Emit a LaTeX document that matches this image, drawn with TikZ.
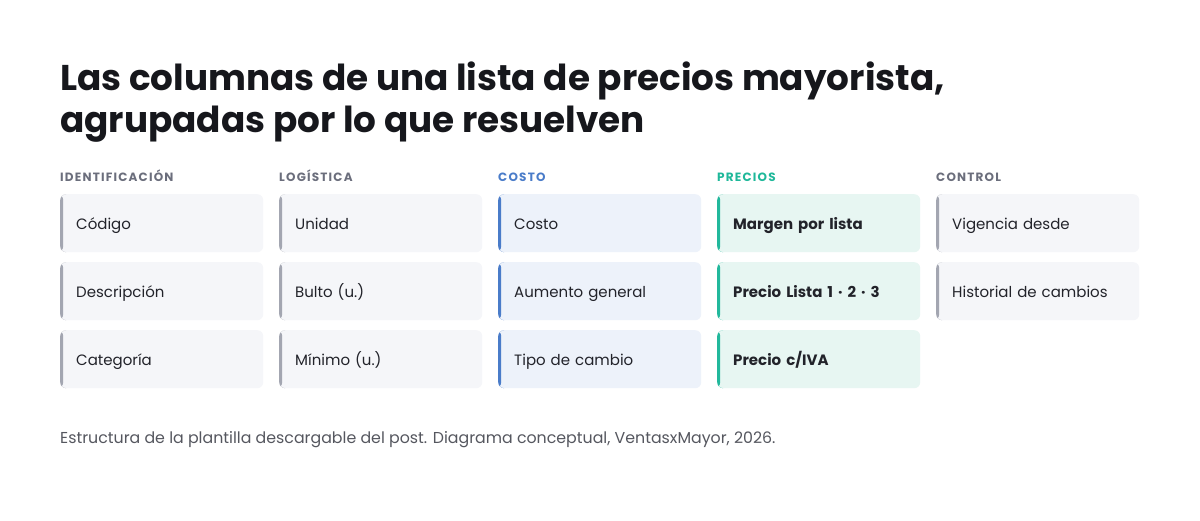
\documentclass[tikz,border=0pt]{standalone}
\usepackage{fontspec}
\setmainfont{Poppins}
\newfontfamily\hdrfont[LetterSpace=10]{Poppins}
\definecolor{titlecol}{HTML}{16171C}
\definecolor{txt}{HTML}{22232A}
\definecolor{hdrgray}{HTML}{6B6E7C}
\definecolor{hdrblue}{HTML}{4A7CC9}
\definecolor{hdrteal}{HTML}{1FB89A}
\definecolor{fillgray}{HTML}{F5F6F9}
\definecolor{fillblue}{HTML}{EDF2FA}
\definecolor{fillteal}{HTML}{E7F6F2}
\definecolor{bargray}{HTML}{A3A6B1}
\definecolor{barblue}{HTML}{4A7CC9}
\definecolor{barteal}{HTML}{22B89C}
\definecolor{capcol}{HTML}{55575F}
\tikzset{
  cell/.style={rectangle, rounded corners=6pt, minimum height=58pt, text width=171pt,
    inner xsep=16pt, inner ysep=0pt, align=left, anchor=north west,
    text height=15pt, text depth=3pt,
    font=\fontsize{15}{18}\selectfont, text=txt},
  gcell/.style={cell, fill=fillgray, path picture={\fill[bargray] (path picture bounding box.south west) rectangle ([xshift=3pt]path picture bounding box.north west);}},
  bcell/.style={cell, fill=fillblue, path picture={\fill[barblue] (path picture bounding box.south west) rectangle ([xshift=3pt]path picture bounding box.north west);}},
  tcell/.style={cell, fill=fillteal, font=\fontsize{15}{18}\selectfont\bfseries, path picture={\fill[barteal] (path picture bounding box.south west) rectangle ([xshift=3pt]path picture bounding box.north west);}},
  hdr/.style={anchor=base west, inner sep=0pt, font=\hdrfont\fontsize{12}{14}\selectfont\bfseries},
}
\begin{document}
\begin{tikzpicture}[x=1pt,y=-1pt]
\useasboundingbox[fill=white] (0,0) rectangle (1200,520);
\node[anchor=base west, inner sep=0pt, align=left, text=titlecol, font=\fontsize{35.8}{42}\selectfont\bfseries] (title) at (60,132)
  {Las columnas de una lista de precios mayorista,\\agrupadas por lo que resuelven};
% headers
\node[hdr, text=hdrgray] (h1) at (60,181) {IDENTIFICACIÓN};
\node[hdr, text=hdrgray] (h2) at (279,181) {LOGÍSTICA};
\node[hdr, text=hdrblue] (h3) at (498,181) {COSTO};
\node[hdr, text=hdrteal] (h4) at (717,181) {PRECIOS};
\node[hdr, text=hdrgray] (h5) at (936,181) {CONTROL};
% column 1
\node[gcell] (a1) at (60,194) {Código};
\node[gcell] (a2) at (60,262) {Descripción};
\node[gcell] (a3) at (60,330) {Categoría};
% column 2
\node[gcell] (b1) at (279,194) {Unidad};
\node[gcell] (b2) at (279,262) {Bulto (u.)};
\node[gcell] (b3) at (279,330) {Mínimo (u.)};
% column 3
\node[bcell] (c1) at (498,194) {Costo};
\node[bcell] (c2) at (498,262) {Aumento general};
\node[bcell] (c3) at (498,330) {Tipo de cambio};
% column 4
\node[tcell] (d1) at (717,194) {Margen por lista};
\node[tcell] (d2) at (717,262) {Precio Lista 1 · 2 · 3};
\node[tcell] (d3) at (717,330) {Precio c/IVA};
% column 5
\node[gcell] (e1) at (936,194) {Vigencia desde};
\node[gcell] (e2) at (936,262) {Historial de cambios};
% caption
\node[anchor=base west, inner sep=0pt, text=capcol, font=\fontsize{15.8}{18}\selectfont] (cap) at (60,443)
  {Estructura de la plantilla descargable del post. Diagrama conceptual, VentasxMayor, 2026.};
\end{tikzpicture}
\end{document}
